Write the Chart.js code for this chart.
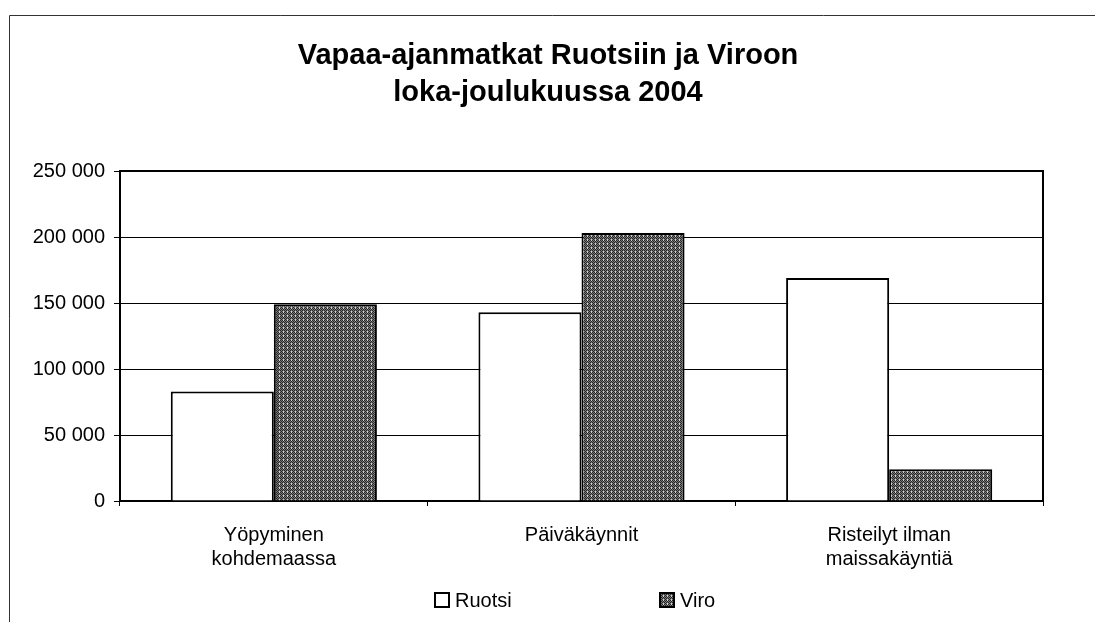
<!DOCTYPE html>
<html>
<head>
<meta charset="utf-8">
<script src="https://cdn.jsdelivr.net/npm/chart.js@4.4.1/dist/chart.umd.min.js"></script>
<style>
  html, body { margin: 0; padding: 0; background: #fff; }
  #wrap { position: relative; width: 1095px; height: 622px; }
</style>
</head>
<body>
<div id="wrap"><canvas id="c" width="1095" height="622"></canvas></div>
<script>
// ---- data ----
const titleLines = ["Vapaa-ajanmatkat Ruotsiin ja Viroon", "loka-joulukuussa 2004"];
const categories = [["Yöpyminen", "kohdemaassa"], ["Päiväkäynnit"], ["Risteilyt ilman", "maissakäyntiä"]];
const seriesNames = ["Ruotsi", "Viro"];
const ruotsiValues = [83000, 143000, 169000];
const viroValues = [149000, 203000, 24000];
const yMin = 0, yMax = 250000, yStep = 50000;

const FONT = "'Liberation Sans', Arial, Helvetica, sans-serif";

// stippled grey fill to mimic the scanned texture
function makePattern() {
  const p = document.createElement('canvas');
  p.width = 4; p.height = 4;
  const g = p.getContext('2d');
  g.fillStyle = '#7a7a7a'; g.fillRect(0, 0, 4, 4);
  g.fillStyle = '#262626';
  [[0,0],[2,0],[1,1],[3,1],[0,2],[2,2],[1,3]].forEach(([x,y]) => g.fillRect(x, y, 1, 1));
  g.fillStyle = '#d0d0d0';
  [[3,3],[3,0]].forEach(([x,y]) => g.fillRect(x, y, 1, 1));
  return document.getElementById('c').getContext('2d').createPattern(p, 'repeat');
}
const viroFill = makePattern();
const fills = ['#ffffff', viroFill];

function fmt(v) { return String(v).replace(/\B(?=(\d{3})+(?!\d))/g, ' '); }

const framePlugin = {
  id: 'frame',
  beforeDraw(chart) {
    const ctx = chart.ctx;
    ctx.save();
    ctx.fillStyle = '#fff';
    ctx.fillRect(0, 0, chart.width, chart.height);
    ctx.strokeStyle = '#333';
    ctx.lineWidth = 1;
    ctx.beginPath();
    ctx.moveTo(9.5, chart.height); ctx.lineTo(9.5, 15.5); ctx.lineTo(chart.width, 15.5);
    ctx.stroke();
    ctx.restore();
  },
  afterDraw(chart) {
    const ctx = chart.ctx, a = chart.chartArea;
    ctx.save();
    ctx.strokeStyle = '#000';
    ctx.lineWidth = 2;
    ctx.beginPath();
    ctx.moveTo(a.left, a.top); ctx.lineTo(a.right, a.top); ctx.lineTo(a.right, a.bottom);
    ctx.stroke();
    // title
    ctx.fillStyle = '#000';
    ctx.font = 'bold 29px ' + FONT;
    ctx.textAlign = 'center';
    ctx.textBaseline = 'middle';
    titleLines.forEach((t, i) => ctx.fillText(t, 548, 56 + i * 37));
    // legend
    const startX = [435, 660];
    const cy = 600;
    ctx.font = '20px ' + FONT;
    ctx.textBaseline = 'middle';
    ctx.textAlign = 'left';
    chart.data.datasets.forEach((ds, i) => {
      const x = startX[i];
      ctx.fillStyle = ds.backgroundColor;
      ctx.fillRect(x, cy - 7, 14, 14);
      ctx.lineWidth = 2;
      ctx.strokeStyle = '#000';
      ctx.strokeRect(x, cy - 7, 14, 14);
      ctx.fillStyle = '#000';
      ctx.fillText(ds.label, x + 20, cy + 1);
    });
    ctx.restore();
  }
};

new Chart(document.getElementById('c'), {
  type: 'bar',
  data: {
    labels: categories,
    datasets: [
      { label: seriesNames[0], data: ruotsiValues, backgroundColor: fills[0], borderColor: '#000', borderWidth: 2 },
      { label: seriesNames[1], data: viroValues, backgroundColor: fills[1], borderColor: '#000', borderWidth: 2 }
    ]
  },
  options: {
    responsive: false,
    animation: false,
    devicePixelRatio: 1,
    layout: { padding: { left: 0, right: 52, top: 171, bottom: 0 } },
    datasets: { bar: { categoryPercentage: 0.67, barPercentage: 1.0 } },
    plugins: {
      legend: { display: false },
      tooltip: { enabled: false },
      title: { display: false }
    },
    scales: {
      x: {
        offset: true,
        grid: { display: true, drawOnChartArea: false, drawTicks: true, tickLength: 5, color: '#000', lineWidth: 1, offset: true },
        border: { display: true, color: '#000', width: 2 },
        ticks: { color: '#000', font: { family: FONT, size: 20, lineHeight: '24px' }, padding: 17, maxRotation: 0, autoSkip: false },
        afterFit(s) { s.height = 121; }
      },
      y: {
        min: yMin, max: yMax,
        grid: { color: '#000', lineWidth: 1, tickLength: 6, drawTicks: true },
        border: { display: true, color: '#000', width: 2 },
        ticks: { stepSize: yStep, color: '#000', font: { family: FONT, size: 20 }, padding: 9, callback: v => fmt(v) },
        afterFit(s) { s.width = 120; }
      }
    }
  },
  plugins: [framePlugin]
});
</script>
</body>
</html>
